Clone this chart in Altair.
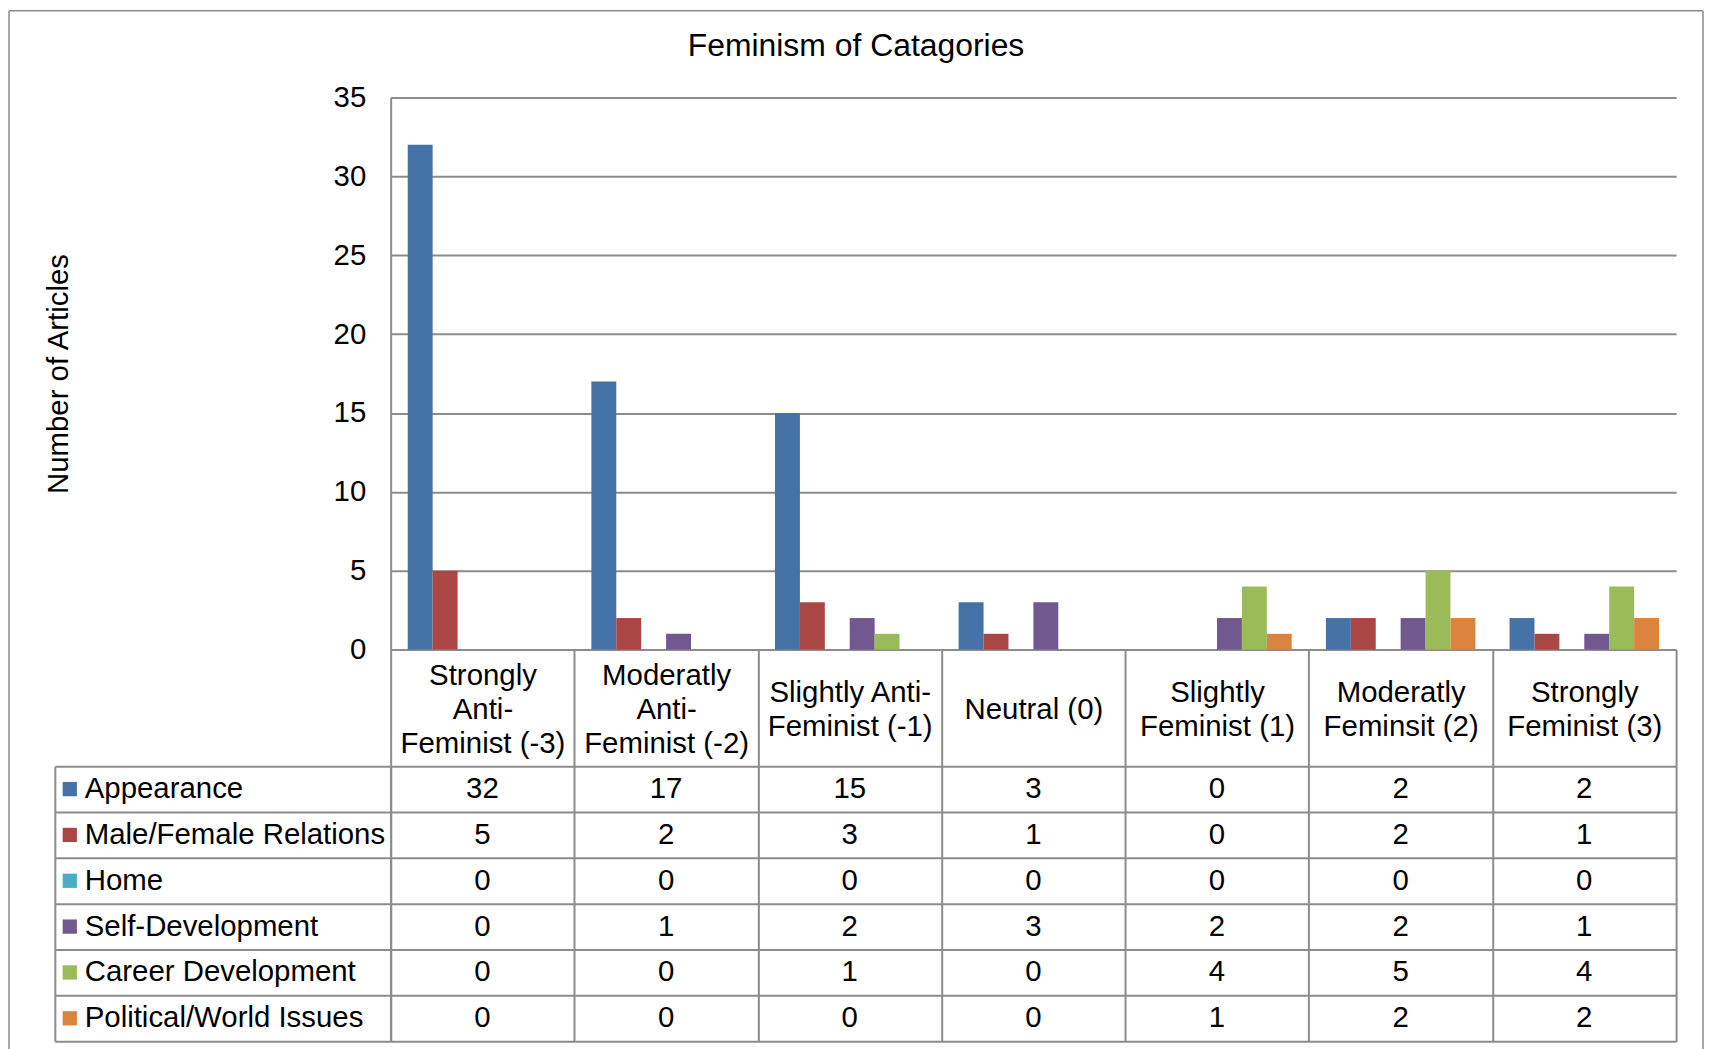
import altair as alt
import pandas as pd

categories = [
    "Strongly\nAnti-\nFeminist (-3)",
    "Moderatly\nAnti-\nFeminist (-2)",
    "Slightly Anti-\nFeminist (-1)",
    "Neutral (0)",
    "Slightly\nFeminist (1)",
    "Moderatly\nFeminsit (2)",
    "Strongly\nFeminist (3)",
]
series = [
    "Appearance",
    "Male/Female Relations",
    "Home",
    "Self-Development",
    "Career Development",
    "Political/World Issues",
]
appearance = [32, 17, 15, 3, 0, 2, 2]
male_female = [5, 2, 3, 1, 0, 2, 1]
home = [0, 0, 0, 0, 0, 0, 0]
self_dev = [0, 1, 2, 3, 2, 2, 1]
career = [0, 0, 1, 0, 4, 5, 4]
political = [0, 0, 0, 0, 1, 2, 2]
colors = ["#4572A7", "#AA4643", "#4BACC6", "#71588F", "#9BBB59", "#DB843D"]
y_ticks = [0, 5, 10, 15, 20, 25, 30, 35]

values = [appearance, male_female, home, self_dev, career, political]
rows = []
for s, vals in zip(series, values):
    for c, v in zip(categories, vals):
        rows.append({"category": c, "series": s, "value": v})
df = pd.DataFrame(rows)
leg_df = pd.DataFrame({"series": series, "col": ["legend"] * len(series)})
one = pd.DataFrame({"k": [0]})

FONT = "Liberation Sans"
GRID = "#8c8c8c"
FRAME = "#8a8a8a"
FS = 29.5
LINE_H = 34
PLOT_W = 1290
PLOT_H = 554
LEG_W = 337
HEADER_H = 117
TABLE_H = 276

band0 = alt.Scale(paddingInner=0, paddingOuter=0)
color_scale = alt.Scale(domain=series, range=colors)

# Multi-line header labels, vertically centred in the header cell:
# every label becomes 5 half-line slots (blank slots hold an invisible
# braille-blank glyph, which is not trimmed away) so that 1, 2 and 3-line
# labels share the same centre.
S = "split(datum.label, '\\n')"
B = "'\u2800'"
label_expr = (
    f"length({S}) == 3 ? [{S}[0], {B}, {S}[1], {B}, {S}[2]] : "
    f"length({S}) == 2 ? [{B}, {S}[0], {B}, {S}[1], {B}] : "
    f"[{B}, {B}, datum.label, {B}, {B}]"
)

bars = alt.Chart(df).mark_bar().encode(
    x=alt.X(
        "category:N", sort=categories, scale=band0,
        axis=alt.Axis(
            title=None, labelExpr=label_expr, labelFontSize=FS,
            labelFont=FONT, labelColor="black", labelAngle=0,
            labelLineHeight=LINE_H / 2, labelBaseline="middle",
            labelPadding=(HEADER_H / 2 - LINE_H) - HEADER_H + 2, labelLimit=400,
            tickBand="extent", tickSize=HEADER_H, tickColor=GRID, tickWidth=2,
            domainColor=GRID, domainWidth=2,
        ),
    ),
    xOffset=alt.XOffset("series:N", sort=series,
                        scale=alt.Scale(paddingInner=0, paddingOuter=0.686)),
    y=alt.Y(
        "value:Q", scale=alt.Scale(domain=[0, 35]),
        axis=alt.Axis(
            values=y_ticks, title="Number of Articles", grid=True, gridColor=GRID,
            gridWidth=2, ticks=False, domainColor=GRID, domainWidth=2,
            labelFontSize=FS, labelFont=FONT, labelColor="black", labelPadding=25,
            titleFontSize=FS, titleFont=FONT, titleFontWeight="normal",
            titleColor="black", titlePadding=260,
        ),
    ),
    color=alt.Color("series:N", sort=series, scale=color_scale, legend=None),
).properties(width=PLOT_W, height=PLOT_H)

# empty top-left cell, carrying the chart-area frame (left, top, right edges)
frame_left = alt.Chart(one).mark_rule(color=FRAME, strokeWidth=1.5).encode(
    x=alt.value(-46), y=alt.value(-87), y2=alt.value(960))
frame_top = alt.Chart(one).mark_rule(color=FRAME, strokeWidth=1.5).encode(
    x=alt.value(-46), x2=alt.value(1654), y=alt.value(-87))
frame_right = alt.Chart(one).mark_rule(color=FRAME, strokeWidth=1.5).encode(
    x=alt.value(1654), y=alt.value(-87), y2=alt.value(960))
empty = alt.layer(frame_left, frame_top, frame_right).properties(
    width=LEG_W, height=PLOT_H)

leg_y = alt.Y("series:N", sort=series, scale=band0,
              axis=alt.Axis(title=None, labels=False, ticks=False, domain=False,
                            grid=True, tickBand="extent", gridColor=GRID, gridWidth=2))
leg_x = alt.X("col:N", bandPosition=0, scale=band0,
              axis=alt.Axis(title=None, labels=False, ticks=False, domain=False,
                            grid=True, tickBand="extent", gridColor=GRID, gridWidth=2))

legend_col = alt.layer(
    alt.Chart(leg_df).mark_square(size=205, opacity=1, xOffset=15).encode(
        x=leg_x, y=leg_y,
        color=alt.Color("series:N", sort=series, scale=color_scale, legend=None),
    ),
    alt.Chart(leg_df).mark_text(align="left", dx=30, fontSize=FS, font=FONT,
                                color="black").encode(
        x=leg_x, y=leg_y, text="series:N",
    ),
).properties(width=LEG_W, height=TABLE_H)

table = alt.Chart(df).mark_text(fontSize=FS, font=FONT, color="black").encode(
    x=alt.X("category:N", sort=categories, scale=band0,
            axis=alt.Axis(title=None, labels=False, ticks=False, domain=False,
                          grid=True, tickBand="extent", gridColor=GRID, gridWidth=2)),
    y=alt.Y("series:N", sort=series, scale=band0,
            axis=alt.Axis(title=None, labels=False, ticks=False, domain=False,
                          grid=True, tickBand="extent", gridColor=GRID, gridWidth=2)),
    text="value:Q",
).properties(width=PLOT_W, height=TABLE_H)

chart = alt.concat(
    empty, bars, legend_col, table,
    columns=2,
    spacing=alt.RowColnumber(row=HEADER_H, column=0),
    bounds="flush",
    title=alt.Title("Feminism of Catagories", fontSize=32, font=FONT,
                    fontWeight="normal", color="black", anchor="middle", offset=-53),
).configure_view(stroke=None).properties(
    padding={"left": 0, "top": 0, "right": 2, "bottom": 0}
)

chart.save("out.html", embed_options={"renderer": "svg", "actions": False})
